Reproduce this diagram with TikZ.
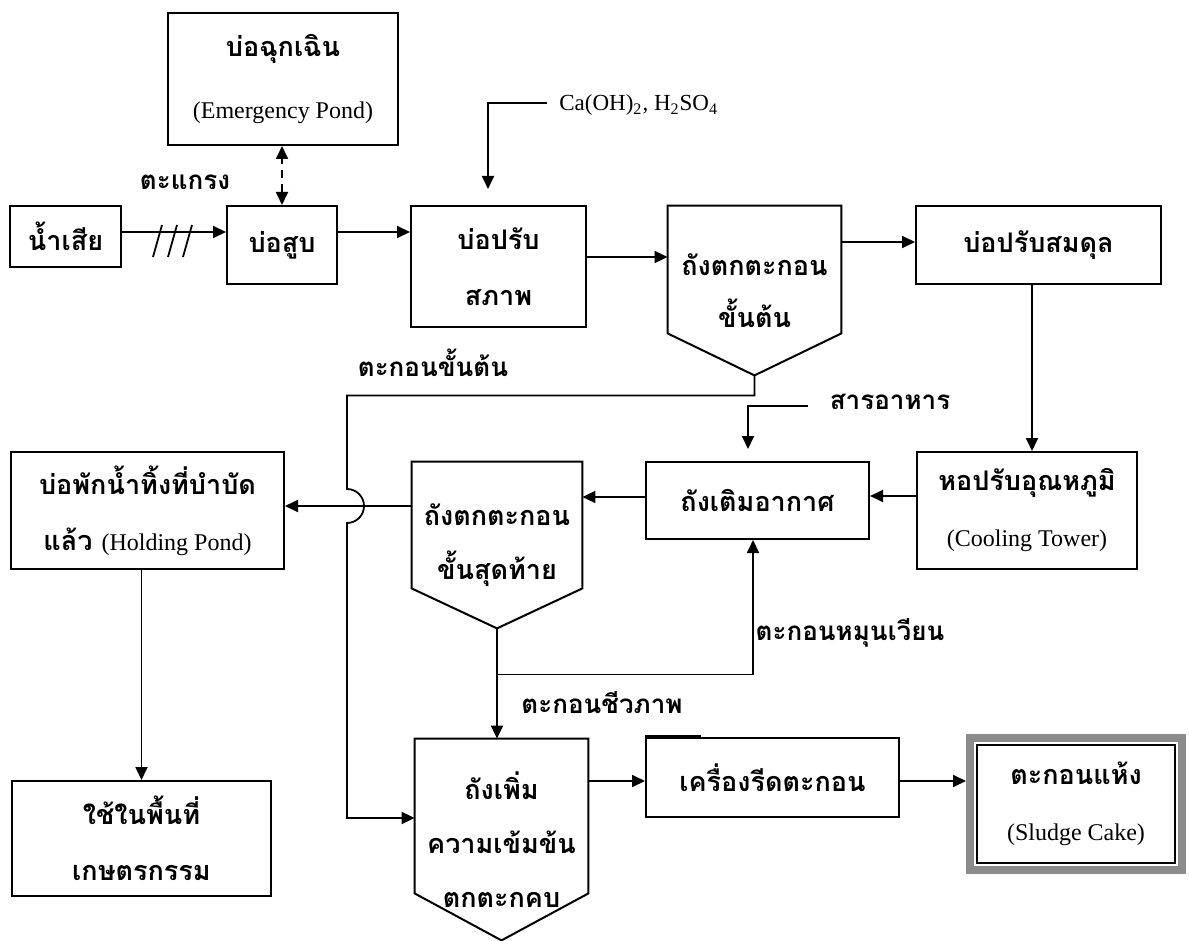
\documentclass[tikz,border=0pt]{standalone}
\usepackage{fontspec}
\setmainfont{Liberation Serif}
\newfontfamily\thaifont[Script=Thai]{Loma}
\usetikzlibrary{arrows.meta}

\newcommand\en[1]{{\rmfamily\mdseries\fontsize{12}{12}\selectfont #1}}

\tikzset{
  wh/.style 2 args={minimum width=#1*.5pt, minimum height=#2*.5pt},
  box/.style={draw, line width=1pt, inner sep=0pt, align=center,
    font=\thaifont\bfseries\fontsize{13.5}{28}\selectfont},
  tank/.style={inner sep=0pt, align=center,
    font=\thaifont\bfseries\fontsize{13.5}{27}\selectfont},
  lbl/.style={inner sep=1pt, font=\thaifont\bfseries\fontsize{13}{15}\selectfont},
  arr/.style={line width=.9pt, -{Triangle[length=6.5pt,width=6pt]}},
}

\begin{document}
\begin{tikzpicture}[x=.5pt, y=-.5pt]
            \useasboundingbox (0,0) rectangle (1189,941);

            % top row
            \node[box, wh={111}{61}] (raw) at (65.5,236.5) {น้ำเสีย};
            \node[box, wh={110}{78}] (pump) at (282,245) {บ่อสูบ};
            \node[box, wh={230}{132}, font=\thaifont\bfseries\fontsize{13.5}{31}\selectfont] (emerg) at (283,79) {บ่อฉุกเฉิน\\\en{(Emergency Pond)}};
            \node[box, wh={175}{121}] (adjust) at (498.5,266.5) {บ่อปรับ\\สภาพ};
            \node[tank, wh={173}{169}, font=\thaifont\bfseries\fontsize{13.5}{26}\selectfont] (prim) at (754.5,290.5) {ถังตกตะกอน\\ขั้นต้น};
            \draw[line width=1pt] (prim.north west) -- (prim.north east) -- ([yshift=21pt]prim.south east) -- (prim.south) -- ([yshift=21pt]prim.south west) -- cycle;
            \node[box, wh={245}{78}] (balance) at (1038.5,245) {บ่อปรับสมดุล};

            % middle row
            \node[box, wh={273}{117}] (hold) at (147.5,510.5) {บ่อพักน้ำทิ้งที่บำบัด\\แล้ว \en{(Holding Pond)}};
            \node[tank, wh={170}{166}] (fin) at (497,545) {ถังตกตะกอน\\ขั้นสุดท้าย};
            \draw[line width=1pt] (fin.north west) -- (fin.north east) -- ([yshift=20pt]fin.south east) -- (fin.south) -- ([yshift=20pt]fin.south west) -- cycle;
            \node[box, wh={223}{77}] (aer) at (757.5,500.5) {ถังเติมอากาศ};
            \node[box, wh={220}{117}] (cool) at (1027,510.5) {หอปรับอุณหภูมิ\\\en{(Cooling Tower)}};

            % bottom row
            \node[box, wh={259}{115}] (agri) at (141.5,838.5) {ใช้ในพื้นที่\\เกษตรกรรม};
            \node[tank, wh={173}{201}] (thick) at (501.5,839.5) {ถังเพิ่ม\\ความเข้มข้น\\ตกตะกคบ};
            \draw[line width=1pt] (thick.north west) -- (thick.north east) -- ([yshift=23.5pt]thick.south east) -- (thick.south) -- ([yshift=23.5pt]thick.south west) -- cycle;
            \node[box, wh={253}{79}] (press) at (772.5,777.5) {เครื่องรีดตะกอน};
            \draw[line width=1.6pt] ([yshift=.4pt]press.north west) -- ++(56,0);
            \node[box, draw=gray!90, line width=4pt, wh={212}{132}] (cake) at (1076,804) {ตะกอนแห้ง\\\en{(Sludge Cake)}};
            \draw[line width=.6pt] ([xshift=5.5pt,yshift=-5.5pt]cake.north west) rectangle ([xshift=-5.5pt,yshift=5.5pt]cake.south east);

            % labels
            \node[lbl] (screen) at (185,182) {ตะแกรง};
            \node[lbl, anchor=west, font=\rmfamily\fontsize{11.5}{12}\selectfont] (chem) at (557,105) {Ca(OH)\textsubscript{2}, H\textsubscript{2}SO\textsubscript{4}};
            \node[lbl] (sludge) at (433,363) {ตะกอนขั้นต้น};
            \node[lbl] (nutr) at (890,402) {สารอาหาร};
            \node[lbl] (recyc) at (850,633) {ตะกอนหมุนเวียน};
            \node[lbl] (bio) at (602,703) {ตะกอนชีวภาพ};

            % flow
            \draw[arr] ([yshift=2.25pt]raw.east) -- ([yshift=2.25pt]raw.east -| pump.west);
            \foreach \sx in {153,168,183}
              \draw[line width=.9pt] (\sx,257) -- ++(9,-32);
            \draw[line width=.9pt, dash pattern=on 4pt off 3pt, {Triangle[length=6.5pt,width=6pt]}-{Triangle[length=6.5pt,width=6pt]}] (pump.north) -- (pump.north |- emerg.south);
            \draw[arr] ([yshift=6.5pt]pump.east) -- ([yshift=6.5pt]pump.east -| adjust.west);
            \coordinate (chemin) at (547,103);
            \draw[arr] (chemin) -| ([xshift=-5.25pt,yshift=8pt]adjust.north);
            \draw[arr] ([yshift=4.75pt]adjust.east) -- ([yshift=4.75pt]adjust.east -| prim.west);
            \draw[arr] ([yshift=24.25pt]prim.east) -- ([yshift=24.25pt]prim.east -| balance.west);
            \draw[arr] ([xshift=-3.25pt]balance.south) -- ([xshift=-3.25pt]balance.south |- cool.north);
            \draw[arr] ([yshift=7.25pt]cool.west) -- ([yshift=7.25pt]cool.west -| aer.east);
            \coordinate (nutrin) at (808,406);
            \draw[arr] (nutrin) -| ([xshift=-4.75pt,yshift=6pt]aer.north);
            \draw[arr] ([yshift=1.75pt]aer.west) -- ([yshift=1.75pt]aer.west -| fin.east);
            \draw[arr] ([yshift=19.5pt]fin.west) -- ([yshift=19.5pt]fin.west -| hold.east);
            \draw[arr] (hold.south -| agri.north) -- (agri.north);

            % primary sludge jumps over the effluent line
            \coordinate (jump) at (347,489);
            \draw[arr] (prim.south) -- ++(0,20) -| (jump) arc[start angle=-90, end angle=90, radius=17] |- ([yshift=10.75pt]thick.west);

            % sludge lines
            \draw[arr] (fin.south) -- (fin.south |- thick.north);
            \coordinate (split) at ([yshift=-23pt]fin.south);
            \draw[arr] (split) -| ([xshift=-2.25pt]aer.south);
            \draw[arr] ([yshift=29.25pt]thick.east) -- ([yshift=29.25pt]thick.east -| press.west);
            \draw[arr] ([yshift=-1.75pt]press.east) -- ([yshift=-1.75pt]press.east -| cake.west);
\end{tikzpicture}
\end{document}
